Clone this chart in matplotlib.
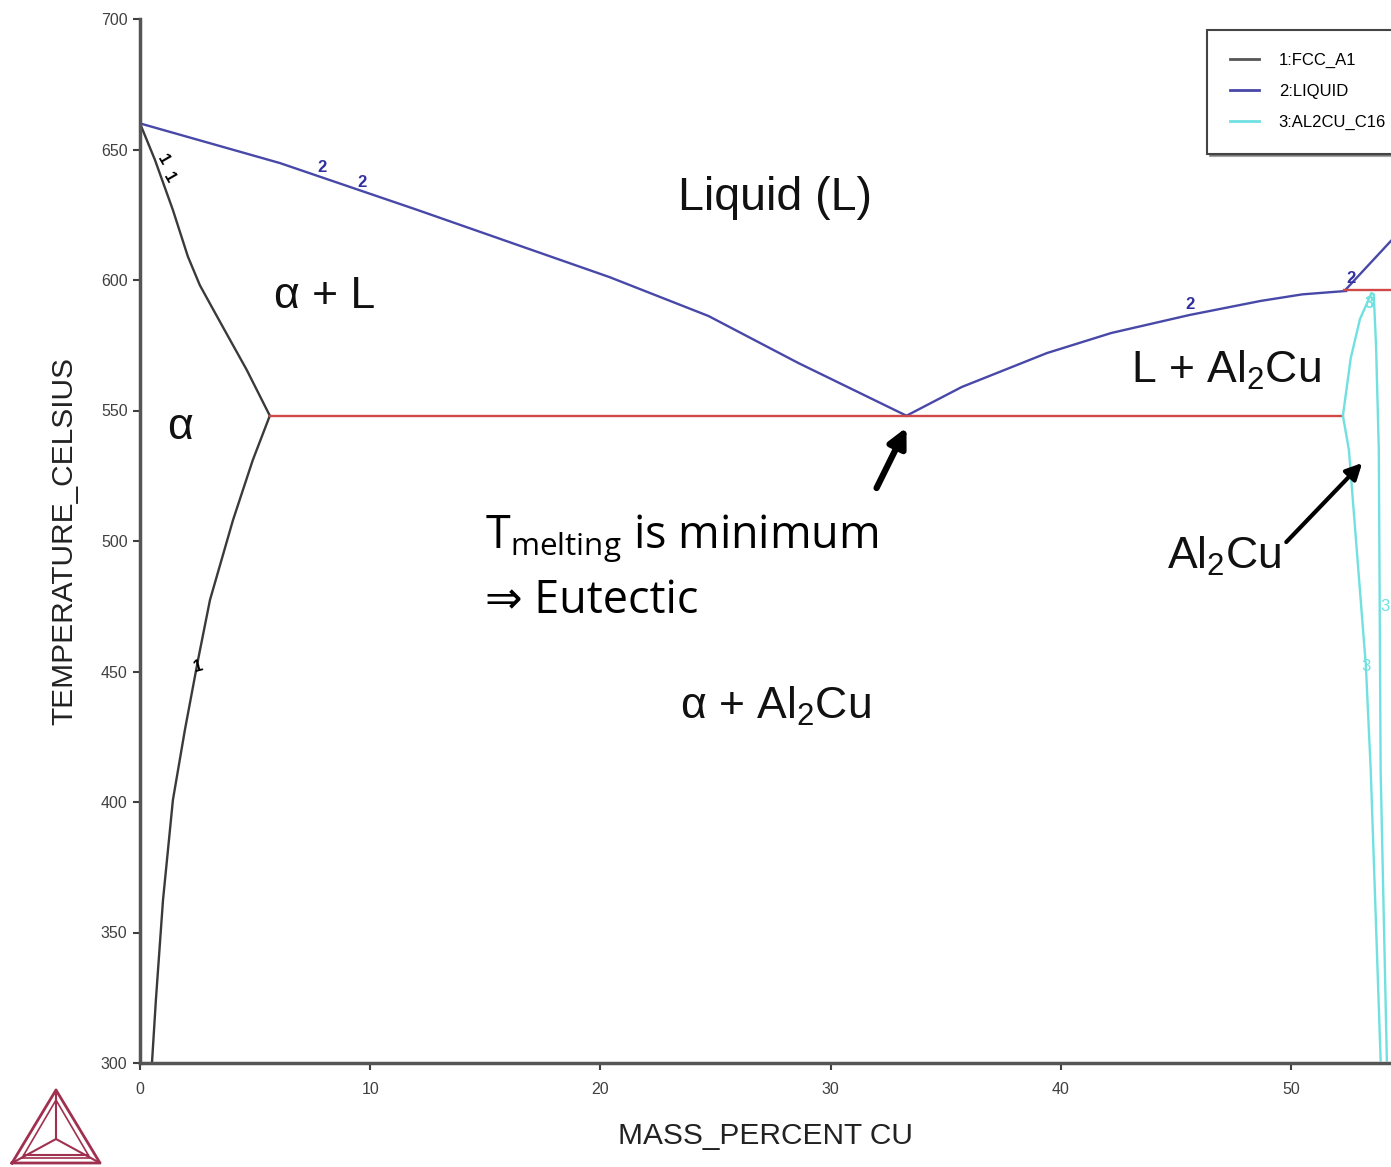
import numpy as np
import matplotlib
matplotlib.use('Agg')
import matplotlib.pyplot as plt
from matplotlib.lines import Line2D

plt.rcParams['font.family'] = ['Liberation Sans', 'DejaVu Sans']

# phase boundaries (mass % Cu, deg C)
fcc_solidus_x = [0, 0.65, 1.43, 2.08, 2.6, 3.13, 3.6, 4.64, 5.64]
fcc_solidus_y = [660, 646, 626.8, 609, 598, 589.5, 582, 565.5, 548]
fcc_solvus_x = [5.64, 4.9, 4.04, 3.04, 2.52, 1.95, 1.43, 1.0, 0.69, 0.52]
fcc_solvus_y = [548, 531, 508, 477.4, 454.4, 427.6, 400.8, 362.5, 324.1, 300]

liq_left_x = [0, 6.08, 12, 20.4, 24.7, 28.6, 33.3]
liq_left_y = [660, 644.8, 627, 601.1, 586.2, 568.2, 548]
liq_right_x = [33.3, 35.7, 39.4, 42.2, 45.6, 48.7, 50.5, 52.4]
liq_right_y = [548, 559, 572, 579.7, 586.6, 592, 594.5, 595.8]
liq_upper_x = [52.4, 54.35]
liq_upper_y = [596.5, 615]

al2cu_x = [54.17, 53.9, 53.82, 53.7, 53.6, 53.5, 53.0, 52.6, 52.26,
           52.52, 53.26, 53.47, 53.9]
al2cu_y = [301, 412, 535, 575, 594.5, 595, 585, 570, 548,
           535, 452, 412, 301]

eutectic_T = 548
eutectic_x = [5.64, 52.26]
peritectic_T = 596
peritectic_x = [52.3, 54.35]

legend_labels = ['1:FCC_A1', '2:LIQUID', '3:AL2CU_C16']

c_fcc = '#3a3a3a'
c_liq = '#4848a8'
c_red = '#d04848'
c_cyan = '#70e0e0'


def main():
    fig = plt.figure(figsize=(13.91, 11.67), dpi=100)
    ax = fig.add_axes([140 / 1391, 1 - 1063 / 1167, 1 - 140 / 1391, (1063 - 19) / 1167])

    lw = 1.7
    ax.plot(fcc_solidus_x, fcc_solidus_y, color=c_fcc, lw=lw)
    ax.plot(fcc_solvus_x, fcc_solvus_y, color=c_fcc, lw=lw)
    ax.plot(liq_left_x, liq_left_y, color=c_liq, lw=lw)
    ax.plot(liq_right_x, liq_right_y, color=c_liq, lw=lw)
    ax.plot(liq_upper_x, liq_upper_y, color=c_liq, lw=lw)
    ax.plot(eutectic_x, [eutectic_T, eutectic_T], color=c_red, lw=lw)
    ax.plot(peritectic_x, [peritectic_T, peritectic_T], color=c_red, lw=lw)
    ax.plot(al2cu_x, al2cu_y, color=c_cyan, lw=lw)

    ax.set_xlim(0, 54.35)
    ax.set_ylim(300, 700)
    ax.set_xticks(range(0, 51, 10))
    ax.set_yticks(range(300, 701, 50))
    ax.tick_params(labelsize=11.5, labelcolor='#404040', color='#404040',
                   length=5, width=1.5, pad=4)
    ax.tick_params(axis='x', pad=9)
    for s in ['top', 'right']:
        ax.spines[s].set_visible(False)
    for s in ['left', 'bottom']:
        ax.spines[s].set_color('#555555')
        ax.spines[s].set_linewidth(2.5)
    ax.set_xlabel('MASS_PERCENT CU', fontsize=21.5, color='#222222', labelpad=18)
    ax.set_ylabel('TEMPERATURE_CELSIUS', fontsize=21.5, color='#222222', labelpad=16)

    # curve numbers
    small = dict(fontsize=12, fontweight='bold', ha='center', va='center')
    ax.text(1.0, 646, '1', color='black', rotation=-60, **small)
    ax.text(1.25, 639, '1', color='black', rotation=-60, **small)
    ax.text(2.55, 452, '1', color='black', rotation=15, **small)
    ax.text(7.9, 643, '2', color='#3030a0', **small)
    ax.text(9.65, 637.5, '2', color='#3030a0', **small)
    ax.text(45.6, 590.5, '2', color='#3030a0', **small)
    ax.text(52.6, 600.5, '2', color='#3030a0', **small)
    ax.text(53.4, 591, '3', color=c_cyan, **small)
    ax.text(53.25, 452, '3', color=c_cyan, fontsize=12, ha='center', va='center')
    ax.text(54.1, 475, '3', color=c_cyan, fontsize=12, ha='center', va='center')

    # region labels
    big = dict(fontsize=32, ha='center', va='center', color='#111111')
    ax.text(27.6, 631.4, 'Liquid (L)', fontsize=33.5, ha='center', va='center',
            color='#111111')
    ax.text(8.0, 593.5, r'α + L', **big)
    ax.text(1.74, 543.3, 'α', **big)
    ax.text(47.2, 565.5, r'L + Al$_\mathregular{2}$Cu', **big)
    ax.text(47.1, 494, r'Al$_\mathregular{2}$Cu', **big)
    ax.text(27.6, 436.8, r'α + Al$_\mathregular{2}$Cu', **big)

    note = dict(fontsize=32.3, ha='left', va='baseline', color='black',
                family=['Open Sans', 'DejaVu Sans'])
    ax.text(15.0, 497.5, r'T$_\mathregular{melting}$ is minimum', **note)
    ax.text(15.0, 472.5, '⇒ Eutectic', **note)

    ax.annotate('', xy=(33.3, 543.5), xytext=(32.0, 520.3),
                arrowprops=dict(arrowstyle='-|>', lw=4.5, color='black',
                                mutation_scale=28, shrinkA=0, shrinkB=0))
    ax.annotate('', xy=(53.1, 529.9), xytext=(49.8, 499.6),
                arrowprops=dict(arrowstyle='-|>', lw=3, color='black',
                                mutation_scale=24, shrinkA=0, shrinkB=0))

    handles = [Line2D([], [], color=c, lw=2) for c in ['#555555', c_liq, c_cyan]]
    leg = fig.legend(handles, legend_labels, loc='upper left',
                     bbox_to_anchor=(1207 / 1391, 1 - 30 / 1167),
                     borderaxespad=0, fontsize=12, handlelength=1.7,
                     handletextpad=1.2, labelspacing=0.95, borderpad=1.4,
                     fancybox=False, shadow=True, framealpha=1)
    leg.get_frame().set_edgecolor('#444444')
    leg.get_frame().set_linewidth(1.5)

    # Thermo-Calc style logo
    lax = fig.add_axes([0, 0, 110 / 1391, 85 / 1167])
    lax.set_xlim(0, 110)
    lax.set_ylim(0, 85)
    lax.axis('off')
    lc = '#a03050'
    tri = np.array([[12, 4], [100, 4], [56, 77], [12, 4]])
    lax.plot(tri[:, 0], tri[:, 1], color=lc, lw=2)
    inner = np.array([[22, 9], [90, 9], [56, 67], [22, 9]])
    lax.plot(inner[:, 0], inner[:, 1], color=lc, lw=1.2)
    for vx, vy in [(12, 4), (100, 4), (56, 77)]:
        lax.plot([vx, 56], [vy, 28], color=lc, lw=1.5)
    lax.plot([24, 88], [12, 12], color=lc, lw=1.5)

    fig.savefig('out.png', dpi=100)


if __name__ == '__main__':
    main()
